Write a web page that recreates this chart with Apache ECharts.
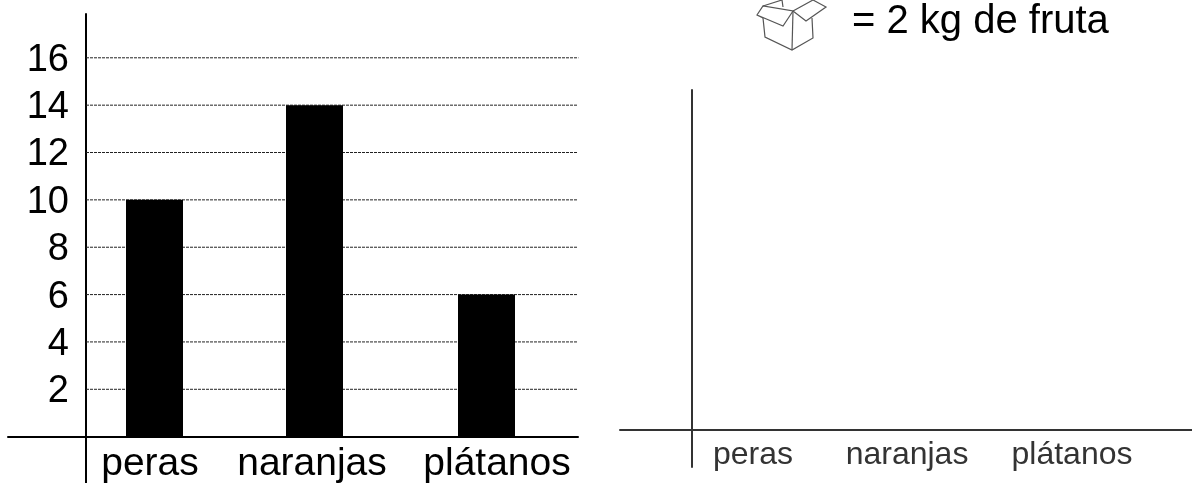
<!DOCTYPE html>
<html>
<head>
<meta charset="utf-8">
<title>Fruta</title>
<style>
    html, body { margin: 0; padding: 0; background: #fff; }
    #chart { width: 1192px; height: 483px; }
</style>
<script src="https://cdn.jsdelivr.net/npm/echarts@6/dist/echarts.min.js"></script>
</head>
<body>
<div id="chart"></div>
<script>
    // datos
    const categories = ['peras', 'naranjas', 'plátanos'];
    const kilos = [10, 14, 6];
    const yTicks = [2, 4, 6, 8, 10, 12, 14, 16];
    const legendText = '= 2 kg de fruta';

    // posicion de las barras y etiquetas sobre el eje x (no son datos)
    const barSlots = [68.5, 228.5, 400.5];
    const labelSlots = [64, 226, 411];
    const blankLabelSlots = [61, 215, 380];

    const font = '"Liberation Sans", Arial, sans-serif';

    const gridLines = yTicks.map(v => ({
        type: 'line',
        xAxisIndex: 0,
        yAxisIndex: 0,
        silent: true,
        symbol: 'none',
        z: 1,
        clip: false,
        lineStyle: { color: '#222', width: 1, type: [3, 1] },
        data: [[0, v], [492, v]]
    }));

    const option = {
        animation: false,
        backgroundColor: '#fff',
        grid: [
            { left: 8, top: 14, width: 570, height: 470, outerBoundsMode: 'none' },
            { left: 620, top: 90, width: 572, height: 377, outerBoundsMode: 'none' }
        ],
        xAxis: [
            {
                type: 'value', gridIndex: 0, min: -78, max: 492,
                splitLine: { show: false },
                axisTick: { show: false },
                axisLine: { onZero: true, lineStyle: { color: '#000', width: 2 } },
                axisLabel: {
                    customValues: labelSlots,
                    formatter: v => categories[labelSlots.indexOf(v)],
                    color: '#000', fontFamily: font, fontSize: 39, margin: -39
                }
            },
            {
                type: 'value', gridIndex: 1, min: -72, max: 500,
                splitLine: { show: false },
                axisTick: { show: false },
                axisLine: { onZero: true, lineStyle: { color: '#333', width: 2 } },
                axisLabel: {
                    customValues: blankLabelSlots,
                    formatter: v => categories[blankLabelSlots.indexOf(v)],
                    color: '#333', fontFamily: font, fontSize: 32, margin: -28
                }
            }
        ],
        yAxis: [
            {
                type: 'value', gridIndex: 0, min: -2, max: 17.85,
                splitLine: { show: false },
                axisTick: { show: false },
                axisLine: { onZero: true, lineStyle: { color: '#000', width: 2 } },
                axisLabel: {
                    customValues: yTicks,
                    margin: -61,
                    formatter: v => '{t|' + v + '}',
                    rich: {
                        t: { color: '#000', fontFamily: font, fontSize: 38, padding: [5, 0, 0, 0] }
                    }
                }
            },
            {
                type: 'value', gridIndex: 1, min: -37, max: 340,
                splitLine: { show: false },
                axisTick: { show: false },
                axisLabel: { show: false },
                axisLine: { onZero: true, lineStyle: { color: '#333', width: 2 } }
            }
        ],
        series: [
            ...gridLines,
            {
                // trozo claro que sobresale en la linea del 16
                type: 'line',
                silent: true,
                symbol: 'none',
                clip: false,
                z: 1,
                lineStyle: { color: '#aaa', width: 1, type: [3, 1] },
                data: [[492, 16], [509, 16]]
            },
            {
                name: 'kg',
                type: 'bar',
                xAxisIndex: 0,
                yAxisIndex: 0,
                barWidth: 57,
                z: 3,
                itemStyle: { color: '#000' },
                data: kilos.map((v, i) => [barSlots[i], v])
            }
        ],
        graphic: [
            {
                type: 'text',
                left: 852,
                top: 2,
                style: { text: legendText, fill: '#000', font: '40px ' + font }
            },
            // caja abierta de la leyenda
            {
                type: 'group',
                silent: true,
                children: [
                    [[763, 18], [765, 37], [792, 50], [813, 38], [812, 18]],
                    [[793, 11], [792, 50]],
                    [[763, 18], [757, 15], [763, 6], [793, 11], [783, 26], [757, 15]],
                    [[793, 11], [813, 0], [826, 7], [806, 21], [793, 11]],
                    [[763, 6], [782, 0], [783, 7]]
                ].map(points => ({
                    type: 'polyline',
                    shape: { points },
                    style: { stroke: '#555', lineWidth: 1.2, fill: null }
                }))
            }
        ]
    };

    const chart = echarts.init(document.getElementById('chart'), null, { renderer: 'canvas' });
    chart.setOption(option);
</script>
</body>
</html>
